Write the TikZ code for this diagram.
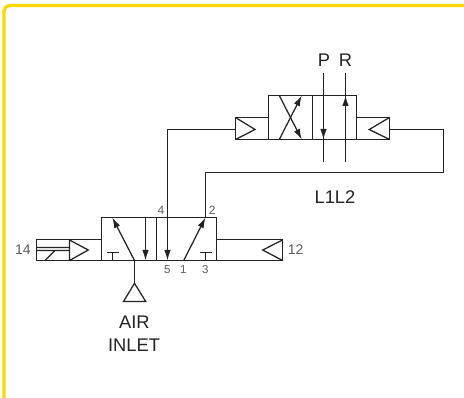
\documentclass[tikz,border=0pt]{standalone}
\usepackage{fontspec}
\setmainfont{Liberation Sans}
\usetikzlibrary{arrows.meta}
\definecolor{framecol}{HTML}{FFD700}
\definecolor{linecol}{HTML}{222222}
\definecolor{portcol}{HTML}{5A5A5A}
\tikzset{
  pipe/.style={draw=linecol,line width=1.25pt},
  flow/.style={pipe,-{Latex[length=10.5pt,width=6.5pt]}},
  bigtext/.style={text=linecol,font=\fontsize{18.3}{20}\selectfont,inner sep=0pt},
  sidetext/.style={text=portcol,font=\fontsize{14}{16}\selectfont,inner sep=0pt},
  porttext/.style={text=portcol,font=\fontsize{11.5}{13}\selectfont,inner sep=0pt}
}
\begin{document}
\begin{tikzpicture}[x=1pt,y=-1pt]
  \useasboundingbox (0,0) rectangle (464,398);
  \draw [framecol,line width=3.4pt,rounded corners=6pt] (4,398)--(4,5.5)--(464,5.5);
  % upper valve
  \def\ut{95.5} \def\ub{139.5} \def\um{129.5}
  \draw [pipe] (268.5,\ut) rectangle (356.5,\ub) (312.5,\ut)--(312.5,\ub);
  \draw [pipe] (268.5,117.5)--(235.5,117.5)--(235.5,\ub)--(268.5,\ub);
  \draw [pipe] (356.5,117.5)--(389.5,117.5)--(389.5,\ub)--(356.5,\ub);
  \draw [pipe] (235.5,117.5)--(255,\um)--(235.5,\ub);
  \draw [pipe] (389.5,117.5)--(369.3,\um)--(389.5,\ub);
  \coordinate (uleft) at (235.5,\um);
  \coordinate (uright) at (389.5,\um);
  \draw [flow] (279.3,\ub)--(301.7,\ut);
  \draw [flow] (279.3,\ut)--(301.7,\ub);
  \draw [pipe] (323.5,73.5)--(323.5,162);
  \draw [flow] (323.5,73.5)--(323.5,\ub);
  \draw [pipe] (345.5,162)--(345.5,73.5);
  \draw [flow] (345.5,162)--(345.5,\ut);
  \node [bigtext] (labp) at (324,60.5) {P};
  \node [bigtext] (labr) at (345.5,60.5) {R};
  \node [bigtext] (labl) at (335,197) {L1L2};
  % lower valve
  \def\lt{217.5} \def\lb{260.5} \def\lm{250}
  \draw [pipe] (101.5,\lt) rectangle (216.5,\lb) (156.5,\lt)--(156.5,\lb);
  \draw [pipe] (101.5,239.5)--(36.5,239.5)--(36.5,\lb)--(101.5,\lb);
  \draw [pipe] (216.5,239.5)--(282.5,239.5)--(282.5,\lb)--(216.5,\lb);
  \draw [pipe] (69.5,239.5)--(69.5,\lb) (69.5,240)--(88.3,\lm)--(69.5,\lb);
  \draw [pipe] (282.5,240)--(262.7,\lm)--(282.5,\lb);
  \draw [pipe] (36.5,247.5)--(69.5,247.5) (36.5,250.5)--(69.5,250.5) (45,\lb)--(55,250.5);
  \draw [pipe] (112.5,\lb)--(112.5,252.5) (107,252.5)--(119,252.5);
  \draw [pipe] (205.5,\lb)--(205.5,252.5) (199.5,252.5)--(211.5,252.5);
  \coordinate (porta) at (167.5,\lt);
  \coordinate (portb) at (205.5,\lt);
  \coordinate (inlet) at (134.5,\lb);
  \draw [flow] (inlet)--(112.3,\lt);
  \draw [flow] (145.5,\lt)--(145.5,\lb);
  \draw [flow] (porta)--(167.5,\lb);
  \draw [flow] (183.7,\lb)--(portb);
  \coordinate (airtop) at (134.5,283.3);
  \draw [pipe] (inlet)--(airtop);
  \draw [pipe] (airtop)--(145.7,301.5)--(123.5,301.5)--cycle;
  % pipes between the valves
  \draw [pipe] (porta)|-(uleft);
  \draw [pipe] (portb)|-(443.5,172.5)|-(uright);
  % labels
  \node [sidetext] (lab14) at (23,250) {14};
  \node [sidetext] (lab12) at (295.7,250) {12};
  \node [porttext,font=\fontsize{12}{14}\selectfont] (lab4) at (161,210.7) {4};
  \node [porttext,font=\fontsize{12}{14}\selectfont] (lab2) at (212.3,210.7) {2};
  \node [porttext] (lab5) at (167.3,269.3) {5};
  \node [porttext] (lab1) at (183.3,269.3) {1};
  \node [porttext] (lab3) at (205.3,269.3) {3};
  \node [bigtext] (labair) at (134.3,322.7) {AIR};
  \node [bigtext] (labinlet) at (134,345) {INLET};
\end{tikzpicture}
\end{document}
